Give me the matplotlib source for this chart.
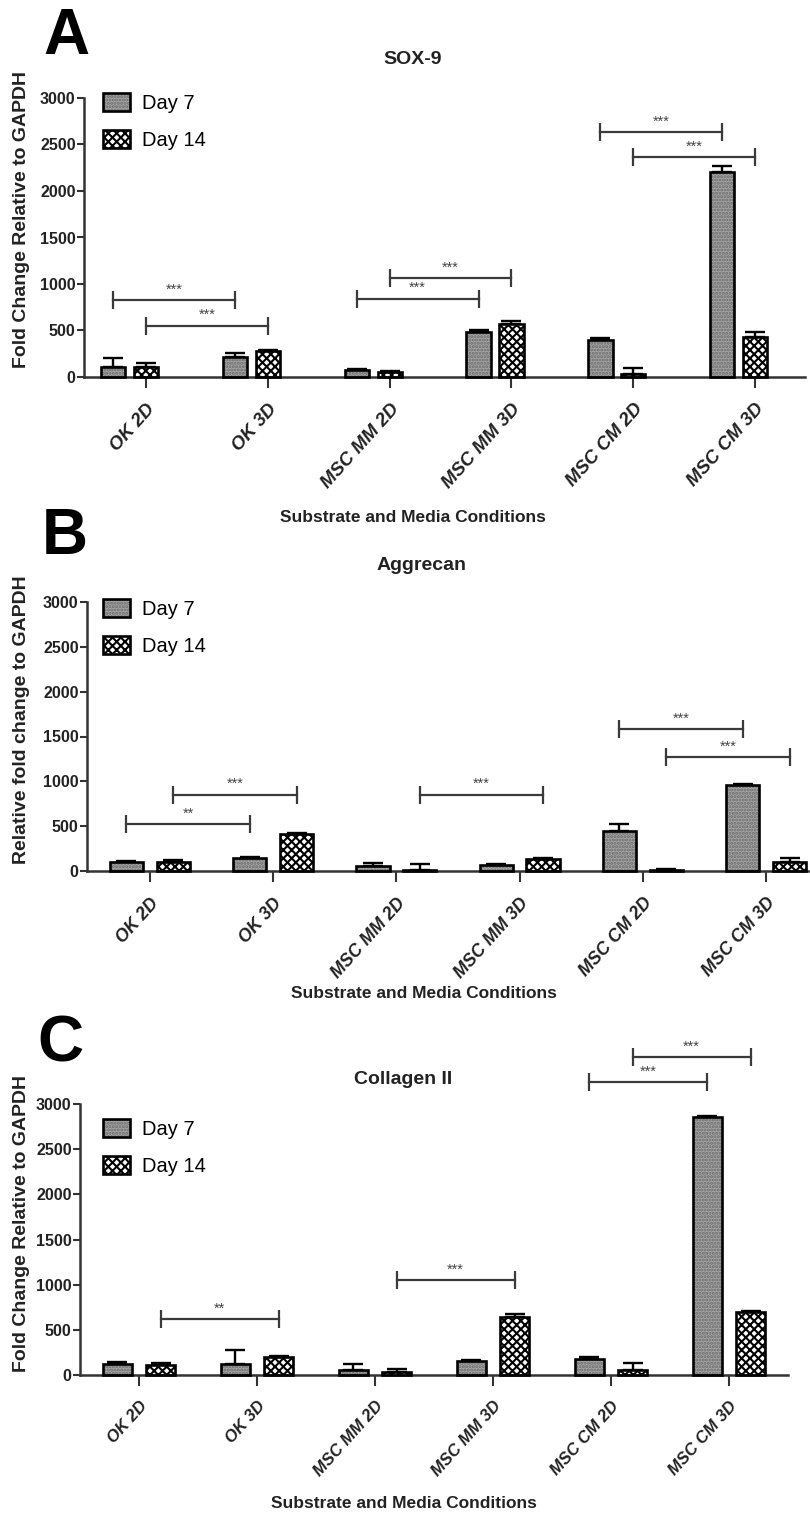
import matplotlib
matplotlib.use("Agg")
import matplotlib.pyplot as plt
from matplotlib.patches import Patch
import numpy as np

plt.rcParams['font.family'] = ['Liberation Sans', 'DejaVu Sans']
plt.rcParams['hatch.linewidth'] = 1.5

# ---------------- data ----------------
categories = ["OK 2D", "OK 3D", "MSC MM 2D", "MSC MM 3D", "MSC CM 2D", "MSC CM 3D"]
series_names = ["Day 7", "Day 14"]
yticks = [0, 500, 1000, 1500, 2000, 2500, 3000]

sox9_day7 = [110, 210, 70, 480, 400, 2200]
sox9_day7_err = [95, 45, 20, 30, 20, 70]
sox9_day14 = [110, 280, 50, 565, 35, 430]
sox9_day14_err = [40, 15, 15, 35, 60, 55]
# brackets: (cat1, series1, cat2, series2, height, label)
sox9_brackets = [(0, 0, 1, 0, 824, "***"), (0, 1, 1, 1, 552, "***"),
                 (2, 0, 3, 0, 842, "***"), (2, 1, 3, 1, 1061, "***"),
                 (4, 0, 5, 0, 2632, "***"), (4, 1, 5, 1, 2363, "***")]

agg_day7 = [100, 140, 55, 65, 450, 955]
agg_day7_err = [10, 20, 30, 10, 75, 12]
agg_day14 = [105, 410, 15, 130, 15, 105]
agg_day14_err = [15, 12, 65, 20, 10, 45]
agg_brackets = [(0, 0, 1, 0, 523, "**"), (0, 1, 1, 1, 852, "***"),
                (2, 1, 3, 1, 852, "***"), (4, 0, 5, 0, 1586, "***"),
                (4, 1, 5, 1, 1272, "***")]

col_day7 = [120, 120, 55, 155, 175, 2860]
col_day7_err = [25, 160, 65, 12, 20, 10]
col_day14 = [115, 200, 35, 645, 55, 700]
col_day14_err = [15, 15, 30, 30, 75, 10]
col_brackets = [(0, 1, 1, 1, 618, "**"), (2, 1, 3, 1, 1048, "***"),
                (4, 0, 5, 0, 3240, "***"), (4, 1, 5, 1, 3515, "***")]

# ---------------- layout ----------------
W, H = 810, 1520
fig = plt.figure(figsize=(W / 100, H / 100), dpi=100)


def rect(l, t, r, b):
    return [l / W, 1 - b / H, (r - l) / W, (b - t) / H]


def fx(x):
    return x / W


def fy(y):
    return 1 - y / H


panels = [
    dict(letter="A", title="SOX-9", ylabel="Fold Change Relative to GAPDH",
         d7=sox9_day7, e7=sox9_day7_err, d14=sox9_day14, e14=sox9_day14_err,
         br=sox9_brackets, box=(84, 98, 805, 377), xlim=(-0.51, 5.41),
         off=(-0.27, 0.0), width=0.2, tfs=13.5,
         letter_xy=(66, 37), title_xy=(413, 60), xl_xy=(413, 518), yl_xy=(22, 220),
         leg_xy=(103, 93)),
    dict(letter="B", title="Aggrecan", ylabel="Relative fold change to GAPDH",
         d7=agg_day7, e7=agg_day7_err, d14=agg_day14, e14=agg_day14_err,
         br=agg_brackets, box=(87, 602, 808, 871), xlim=(-0.51, 5.34),
         off=(-0.19, 0.19), width=0.27, tfs=12.8,
         letter_xy=(65, 537), title_xy=(422, 566), xl_xy=(424, 994), yl_xy=(22, 720),
         leg_xy=(103, 599)),
    dict(letter="C", title="Collagen II", ylabel="Fold Change Relative to GAPDH",
         d7=col_day7, e7=col_day7_err, d14=col_day14, e14=col_day14_err,
         br=col_brackets, box=(80, 1104, 788, 1375), xlim=(-0.5, 5.5),
         off=(-0.184, 0.184), width=0.245, tfs=12,
         letter_xy=(60, 1045), title_xy=(403, 1080), xl_xy=(404, 1503), yl_xy=(22, 1224),
         leg_xy=(103, 1119)),
]

spine_col = "#333333"
d7_face, d7_hatch_col, d7_hatch = "#a6a6a6", "#6a6a6a", "....."
d14_face, d14_hatch_col, d14_hatch = "white", "black", "xxxx"

for p in panels:
    ax = fig.add_axes(rect(*p["box"]))
    x = np.arange(len(categories))
    offs = p["off"]
    w = p["width"]
    series = [(p["d7"], p["e7"], d7_face, d7_hatch_col, d7_hatch),
              (p["d14"], p["e14"], d14_face, d14_hatch_col, d14_hatch)]
    for k, (vals, errs, face, hcol, hatch) in enumerate(series):
        xs = x + offs[k]
        ax.errorbar(xs, vals, yerr=[np.zeros(len(vals)), errs], fmt="none",
                    ecolor="black", elinewidth=1.7, capsize=7, capthick=1.7, zorder=1)
        ax.bar(xs, vals, width=w, color=face, edgecolor=hcol, hatch=hatch,
               linewidth=0, zorder=2, clip_on=False)
        ax.bar(xs, vals, width=w, fill=False, edgecolor="black", linewidth=1.9,
               zorder=3, clip_on=False)

    for (c1, s1, c2, s2, h, lab) in p["br"]:
        x1 = c1 + offs[s1]
        x2 = c2 + offs[s2]
        ax.plot([x1, x2], [h, h], color="#3a3a3a", lw=1.6, clip_on=False, zorder=4)
        ax.plot([x1, x2], [h, h], ls="none", marker="|", ms=13, mew=1.6,
                color="#3a3a3a", clip_on=False, zorder=4)
        ax.annotate(lab, xy=((x1 + x2) / 2, h), xytext=(0, 2.5), textcoords="offset points",
                    ha="center", va="bottom", fontsize=10.5, color="#444444",
                    annotation_clip=False)

    ax.set_xlim(*p["xlim"])
    ax.set_ylim(0, 3000)
    ax.set_yticks(yticks)
    ax.set_yticklabels([str(t) for t in yticks], fontsize=11.5, fontweight="bold")
    ax.set_xticks(x)
    ax.set_xticklabels(categories, rotation=48, ha="right", va="top",
                       rotation_mode="anchor", fontsize=p["tfs"], fontweight="bold",
                       fontstyle="italic")
    ax.tick_params(axis="y", direction="out", length=5, width=1.5, pad=1, colors=spine_col)
    ax.tick_params(axis="x", direction="out", length=8, width=1.5, pad=9, colors=spine_col)
    for lab in ax.get_xticklabels() + ax.get_yticklabels():
        lab.set_color("#222222")
    for s in ["top", "right"]:
        ax.spines[s].set_visible(False)
    for s in ["left", "bottom"]:
        ax.spines[s].set_linewidth(1.8)
        ax.spines[s].set_color(spine_col)

    h7 = (Patch(facecolor=d7_face, edgecolor=d7_hatch_col, hatch=d7_hatch, linewidth=0),
          Patch(fill=False, edgecolor="black", linewidth=1.9))
    h14 = (Patch(facecolor=d14_face, edgecolor=d14_hatch_col, hatch=d14_hatch, linewidth=0),
           Patch(fill=False, edgecolor="black", linewidth=1.9))
    lx, ly = p["leg_xy"]
    ax.legend([h7, h14], series_names, loc="upper left",
              bbox_to_anchor=(fx(lx), fy(ly)), bbox_transform=fig.transFigure,
              frameon=False, fontsize=14.5, handlelength=1.35, handleheight=1.0,
              handletextpad=0.6, labelspacing=0.85, borderpad=0, borderaxespad=0)

    fig.text(fx(p["letter_xy"][0]), fy(p["letter_xy"][1]), p["letter"], fontsize=46,
             fontweight="bold", ha="center", va="center")
    fig.text(fx(p["title_xy"][0]), fy(p["title_xy"][1]), p["title"], fontsize=14,
             fontweight="bold", ha="center", va="center", color="#222222")
    fig.text(fx(p["xl_xy"][0]), fy(p["xl_xy"][1]), "Substrate and Media Conditions",
             fontsize=12.5, fontweight="bold", ha="center", va="center", color="#222222")
    fig.text(fx(p["yl_xy"][0]), fy(p["yl_xy"][1]), p["ylabel"], fontsize=14,
             fontweight="bold", ha="center", va="center", rotation=90, color="#222222")

fig.savefig("out.png", dpi=100, facecolor="white")
